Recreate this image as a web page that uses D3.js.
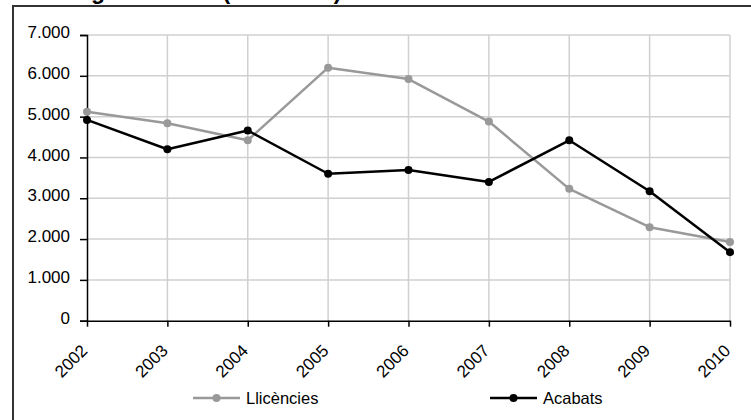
<!DOCTYPE html>
<html>
<head>
<meta charset="utf-8">
<script src="https://cdn.jsdelivr.net/npm/d3@7"></script>
<style>
  html, body { margin: 0; padding: 0; background: #fff; }
  svg { display: block; font-family: Arial, "Liberation Sans", sans-serif; }
</style>
</head>
<body>
<main></main>
<script>
// Data
const years = ["2002", "2003", "2004", "2005", "2006", "2007", "2008", "2009", "2010"];
const llicencies = [5120, 4840, 4420, 6200, 5920, 4880, 3230, 2290, 1930];
const acabats = [4920, 4200, 4660, 3600, 3690, 3400, 4420, 3170, 1680];
const yTicks = [0, 1000, 2000, 3000, 4000, 5000, 6000, 7000];
const title = "Habitatges iniciats (llicències) i acabats";

// Set dimensions
const w = 751;
const h = 420;

const svg = d3
  .select("main")
  .append("svg")
  .attr("width", w)
  .attr("height", h)
  .attr("viewBox", `0 0 ${w} ${h}`);

// Catalan number format (7.000)
const fmt = d3
  .formatLocale({ decimal: ",", thousands: ".", grouping: [3], currency: ["", " €"] })
  .format(",d");

// Scales
const xScale = d3.scalePoint().domain(years).range([87, 730]);
const yScale = d3.scaleLinear().domain([0, 7000]).range([320.7, 35]);

// Title (cut off at top, as in the original)
svg
  .append("text")
  .attr("x", 13)
  .attr("y", -1.5)
  .attr("font-size", 23)
  .attr("font-weight", "bold")
  .text(title);

// Outer frame
svg
  .append("rect")
  .attr("x", 13)
  .attr("y", 6)
  .attr("width", w)
  .attr("height", h)
  .attr("fill", "none")
  .attr("stroke", "#333")
  .attr("stroke-width", 2);

// Horizontal grid lines
svg
  .append("g")
  .selectAll("line")
  .data(yTicks.slice(1))
  .enter()
  .append("line")
  .attr("x1", xScale.range()[0])
  .attr("x2", xScale.range()[1])
  .attr("y1", (d) => yScale(d))
  .attr("y2", (d) => yScale(d))
  .attr("stroke", "#d0d0d0")
  .attr("stroke-width", 1.5);

// Vertical grid lines
svg
  .append("g")
  .selectAll("line")
  .data(years.slice(1))
  .enter()
  .append("line")
  .attr("x1", (d) => xScale(d))
  .attr("x2", (d) => xScale(d))
  .attr("y1", yScale(0))
  .attr("y2", yScale(7000))
  .attr("stroke", "#d0d0d0")
  .attr("stroke-width", 1.5);

// Y axis
const yAxis = d3.axisLeft(yScale).tickValues(yTicks).tickFormat(fmt).tickSize(7).tickPadding(10);
const yG = svg
  .append("g")
  .attr("transform", `translate(${xScale.range()[0]}, 0)`)
  .call(yAxis);
yG.select(".domain").attr("stroke", "#000").attr("stroke-width", 1.5);
yG.selectAll(".tick line").attr("stroke", "#000").attr("stroke-width", 1.5);
yG.selectAll(".tick text")
  .attr("font-size", 17)
  .attr("font-family", "Arial, 'Liberation Sans', sans-serif")
  .attr("fill", "#000")
  .attr("dy", "0.15em");

// X axis
const xAxis = d3.axisBottom(xScale).tickSize(6).tickSizeOuter(0);
const xG = svg
  .append("g")
  .attr("transform", `translate(0, ${yScale(0)})`)
  .call(xAxis);
xG.select(".domain").attr("stroke", "#000").attr("stroke-width", 1.5);
xG.selectAll(".tick line").attr("stroke", "#000").attr("stroke-width", 1.5);
xG.selectAll(".tick text")
  .attr("font-size", 17)
  .attr("font-family", "Arial, 'Liberation Sans', sans-serif")
  .attr("fill", "#000")
  .attr("text-anchor", "end")
  .attr("dy", 0)
  .attr("x", 0)
  .attr("y", 0)
  .attr("transform", "translate(1, 31) rotate(-45)");

// Series
const series = [
  { name: "Llicències", values: llicencies, color: "#999999" },
  { name: "Acabats", values: acabats, color: "#000000" },
];

const line = d3
  .line()
  .x((d, i) => xScale(years[i]))
  .y((d) => yScale(d));

series.forEach((s) => {
  svg
    .append("path")
    .datum(s.values)
    .attr("d", line)
    .attr("fill", "none")
    .attr("stroke", s.color)
    .attr("stroke-width", 2.5)
    .attr("stroke-linejoin", "round");

  svg
    .append("g")
    .selectAll("circle")
    .data(s.values)
    .enter()
    .append("circle")
    .attr("cx", (d, i) => xScale(years[i]))
    .attr("cy", (d) => yScale(d))
    .attr("r", 4)
    .attr("fill", s.color);
});

// Legend
const legendX = [193, 490];
series.forEach((s, i) => {
  const g = svg.append("g").attr("transform", `translate(${legendX[i]}, 398)`);
  g.append("line")
    .attr("x1", 0)
    .attr("x2", 47)
    .attr("stroke", s.color)
    .attr("stroke-width", 2.5);
  g.append("circle").attr("cx", 23.5).attr("r", 4).attr("fill", s.color);
  g.append("text")
    .attr("x", 53)
    .attr("y", 6)
    .attr("font-size", 16.5)
    .attr("fill", "#000")
    .text(s.name);
});
</script>
</body>
</html>
